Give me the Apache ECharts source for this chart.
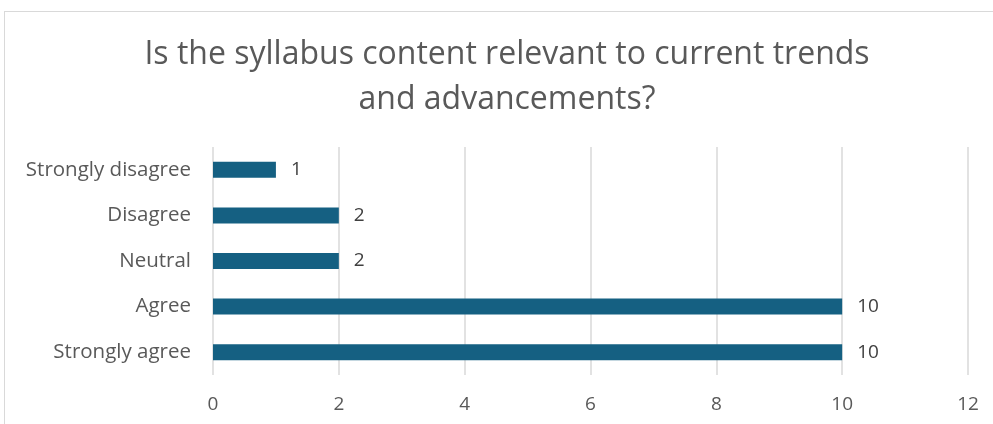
<!DOCTYPE html>
<html><head><meta charset="utf-8">
<script src="https://cdn.jsdelivr.net/npm/echarts@6/dist/echarts.min.js"></script>
<style>
html,body{margin:0;padding:0;background:#fff;overflow:hidden}
#frame{position:absolute;left:4px;top:11px;width:1100px;height:500px;border:1px solid #d9d9d9;box-sizing:border-box}
#c{position:absolute;left:0;top:0;width:993px;height:424px}
</style></head>
<body><div id="frame"></div><div id="c"></div>
<script>
const titleLines = ['Is the syllabus content relevant to current trends', 'and advancements?'];
const categories = ['Strongly agree', 'Agree', 'Neutral', 'Disagree', 'Strongly disagree'];
const values = [10, 10, 2, 2, 1];
const axisMin = 0, axisMax = 12, axisStep = 2;

const lblFont = 'Open Sans, sans-serif';
const chart = echarts.init(document.getElementById('c'), null, {renderer: 'canvas'});
chart.setOption({
  animation: false,
  title: {
    text: titleLines.join('\n'),
    left: 502, top: 27, textAlign: 'center',
    textStyle: {fontFamily: 'Open Sans, sans-serif', fontSize: 32, fontWeight: 'normal', color: '#595959', lineHeight: 45, align: 'center'}
  },
  grid: {left: 213, right: 25, top: 147, bottom: 49},
  xAxis: {
    type: 'value', min: axisMin, max: axisMax, interval: axisStep,
    axisLine: {show: false}, axisTick: {show: false},
    splitLine: {lineStyle: {color: '#d9d9d9', width: 1.5}},
    axisLabel: {margin: 20, fontFamily: lblFont, fontSize: 19, color: '#595959'}
  },
  yAxis: {
    type: 'category', data: categories,
    axisLine: {show: false}, axisTick: {show: false},
    axisLabel: {margin: 22, fontFamily: lblFont, fontSize: 20.5, color: '#595959'}
  },
  series: [{
    type: 'bar', data: values, barWidth: 16,
    itemStyle: {color: '#156082'},
    label: {show: true, position: 'right', distance: 15, fontFamily: lblFont, fontSize: 19, color: '#404040'}
  }]
});
</script></body></html>
